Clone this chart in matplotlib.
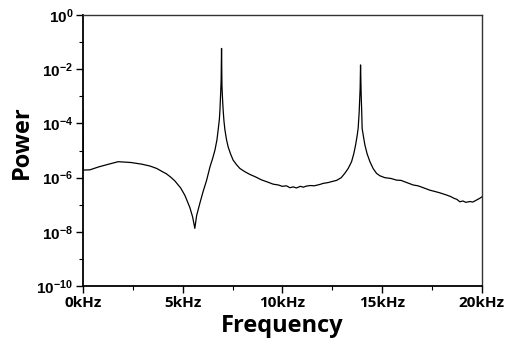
import numpy as np
import matplotlib
matplotlib.use("Agg")
import matplotlib.pyplot as plt
from matplotlib.ticker import FixedLocator, FuncFormatter

# frequency in kHz and log10 of power
freq_khz = [0.0, 0.02, 0.35, 0.8, 1.3, 1.77, 2.4, 2.94, 3.36, 3.7, 3.94,
            4.19, 4.4, 4.61, 4.9, 5.11, 5.36, 5.5, 5.61, 5.7, 5.86, 6.03,
            6.2, 6.37, 6.5, 6.62, 6.72, 6.78, 6.84, 6.87, 6.91, 6.93, 6.95,
            6.97, 7.0, 7.03, 7.07, 7.12, 7.2, 7.28, 7.4, 7.53, 7.7, 7.87,
            8.12, 8.37, 8.65, 8.95, 9.29, 9.54, 9.8, 10.0, 10.2, 10.38,
            10.55, 10.7, 10.9, 11.05, 11.21, 11.4, 11.6, 11.88, 12.05, 12.3,
            12.5, 12.72, 12.95, 13.13, 13.3, 13.47, 13.58, 13.67, 13.75,
            13.8, 13.85, 13.9, 13.92, 13.95, 13.98, 14.0, 14.07, 14.14,
            14.25, 14.39, 14.55, 14.72, 14.89, 15.14, 15.45, 15.72, 15.95,
            16.2, 16.56, 16.8, 17.1, 17.39, 17.6, 17.9, 18.23, 18.45, 18.6,
            18.75, 18.9, 19.05, 19.2, 19.4, 19.55, 19.7, 19.9, 20.0]
log_power = [-3.5, -5.72, -5.71, -5.6, -5.5, -5.41, -5.44, -5.5, -5.57,
             -5.66, -5.76, -5.86, -5.98, -6.12, -6.38, -6.65, -7.1, -7.45,
             -7.87, -7.4, -6.95, -6.5, -6.1, -5.6, -5.3, -4.98, -4.6, -4.24,
             -3.85, -3.5, -2.8, -2.4, -1.23, -2.6, -3.1, -3.5, -3.9, -4.24,
             -4.6, -4.86, -5.12, -5.35, -5.52, -5.66, -5.78, -5.88, -5.97,
             -6.08, -6.17, -6.24, -6.27, -6.32, -6.30, -6.37, -6.34, -6.38,
             -6.32, -6.35, -6.31, -6.29, -6.30, -6.25, -6.21, -6.18, -6.14,
             -6.1, -6.0, -5.84, -5.66, -5.41, -5.12, -4.8, -4.45, -4.18,
             -3.6, -2.7, -1.84, -2.9, -3.6, -4.18, -4.5, -4.8, -5.12, -5.41,
             -5.66, -5.84, -5.93, -6.0, -6.03, -6.09, -6.1, -6.17, -6.27,
             -6.3, -6.38, -6.46, -6.5, -6.56, -6.64, -6.7, -6.76, -6.8,
             -6.89, -6.86, -6.91, -6.88, -6.9, -6.84, -6.76, -6.71]

x_ticks = [0, 5, 10, 15, 20]
x_minor = [2.5, 7.5, 12.5, 17.5]
x_labels = ["0kHz", "5kHz", "10kHz", "15kHz", "20kHz"]
y_major_exp = [0, -2, -4, -6, -8, -10]
y_minor_exp = [-1, -3, -5, -7, -9]

plt.rcParams['mathtext.fontset'] = 'custom'
plt.rcParams['mathtext.bf'] = 'Liberation Sans:bold'
plt.rcParams['mathtext.rm'] = 'Liberation Sans:bold'

fig = plt.figure(figsize=(5.12, 3.43), dpi=100)
ax = fig.add_axes([0.162, 0.166, 0.779, 0.790])

power = 10.0 ** np.array(log_power)
ax.plot(freq_khz, power, color="black", linewidth=0.9)

ax.set_yscale("log")
ax.set_xlim(0, 20)
ax.set_ylim(1e-10, 1e0)

ax.xaxis.set_major_locator(FixedLocator(x_ticks))
ax.xaxis.set_minor_locator(FixedLocator(x_minor))
ax.set_xticklabels(x_labels, fontfamily="Open Sans", fontweight="bold",
                   fontsize=11)

ax.yaxis.set_major_locator(FixedLocator([10.0 ** e for e in y_major_exp]))
ax.yaxis.set_minor_locator(FixedLocator([10.0 ** e for e in y_minor_exp]))
ax.yaxis.set_major_formatter(
    FuncFormatter(lambda v, p: r"$\mathbf{10^{%d}}$" % round(np.log10(v))))
ax.yaxis.set_minor_formatter(FuncFormatter(lambda v, p: ""))

ax.tick_params(which="major", direction="out", length=5, width=1.0,
               colors="black", pad=2)
ax.tick_params(which="minor", direction="out", length=3, width=0.8,
               colors="black")
ax.tick_params(axis="y", labelsize=11)

for s in ax.spines.values():
    s.set_linewidth(1.0)
    s.set_color("#333333")
ax.spines["left"].set_color("black")
ax.spines["bottom"].set_color("black")
ax.spines["left"].set_linewidth(1.3)
ax.spines["bottom"].set_linewidth(1.3)

ax.set_xlabel("Frequency", fontfamily="Open Sans", fontweight="bold",
              fontsize=17, labelpad=3)
ax.set_ylabel("Power", fontfamily="Open Sans", fontweight="bold",
              fontsize=17)
ax.yaxis.set_label_coords(-0.122, 0.53)

fig.savefig("out.png", dpi=100)
